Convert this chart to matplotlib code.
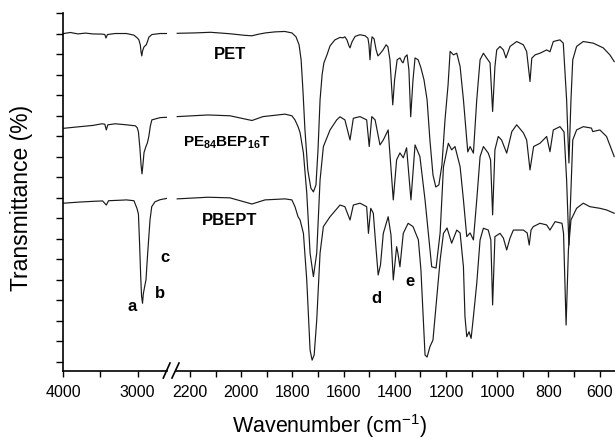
import matplotlib
matplotlib.use("Agg")
import matplotlib.pyplot as plt
import numpy as np

plt.rcParams['font.family'] = ['Liberation Sans', 'DejaVu Sans']
plt.rcParams['mathtext.fontset'] = 'custom'
plt.rcParams['mathtext.rm'] = 'Liberation Sans'
plt.rcParams['mathtext.bf'] = 'Liberation Sans:bold'

# ---------------- data (wavenumber cm-1, transmittance in tick units) -------------
pet_left_wn = [3990, 3900, 3800, 3700, 3600, 3470, 3440, 3425, 3405, 3300, 3150, 3050, 3010,
               2985, 2965, 2955, 2945, 2935, 2915, 2895, 2885, 2870, 2850, 2810, 2700, 2600]
pet_left_t = [16.0, 16.05, 15.98, 16.02, 15.98, 15.97, 15.95, 15.78, 15.95, 16.0, 16.0, 15.92, 15.8,
              15.7, 15.45, 15.1, 14.91, 15.15, 15.35, 15.42, 15.45, 15.6, 15.82, 15.95, 16.0, 16.0]

mid_left_wn = [3990, 3800, 3600, 3480, 3440, 3420, 3400, 3300, 3150, 3030, 3005, 2990,
               2970, 2955, 2942, 2930, 2915, 2890, 2870, 2850, 2830, 2810, 2700, 2600]
mid_left_t = [11.38, 11.45, 11.52, 11.6, 11.58, 11.3, 11.55, 11.6, 11.55, 11.5, 11.4, 11.2,
              10.4, 9.6, 9.16, 9.6, 10.2, 10.49, 10.67, 11.0, 11.5, 11.79, 11.9, 11.92]

pb_left_wn = [3990, 3800, 3600, 3470, 3420, 3390, 3200, 3150, 3050, 3010, 2990, 2975,
              2960, 2948, 2935, 2925, 2905, 2889, 2866, 2835, 2812, 2768, 2700, 2600]
pb_left_t = [7.73, 7.78, 7.82, 7.84, 7.64, 7.85, 7.88, 7.89, 7.85, 7.48, 7.2, 5.8,
             4.2, 3.2, 2.85, 3.3, 3.7, 3.99, 5.3, 6.91, 7.56, 7.8, 7.9, 7.97]

pet_right_wn = [2250, 2180, 2120, 2045, 1985, 1958, 1935, 1905, 1868, 1830, 1802, 1786, 1774,
                1766, 1759, 1751, 1740, 1728, 1718, 1708, 1700, 1692, 1684, 1677, 1665, 1653,
                1634, 1614, 1602, 1595, 1587, 1579, 1575, 1567, 1555, 1536, 1516, 1505, 1501,
                1497, 1493, 1489, 1481, 1473, 1466, 1458, 1446, 1434, 1427, 1419, 1413, 1408,
                1401, 1391, 1380, 1372, 1368, 1360, 1352, 1345, 1338, 1329, 1321, 1309, 1298,
                1286, 1274, 1263, 1251, 1240, 1228, 1216, 1204, 1192, 1184, 1171, 1158, 1145,
                1132, 1119, 1115, 1106, 1093, 1080, 1067, 1054, 1041, 1028, 1018, 1009, 1002,
                989, 976, 966, 950, 924, 898, 885, 872, 865, 852, 833, 807, 794, 781, 755, 742,
                729, 720, 712, 705, 690, 664, 625, 586, 560, 543]
pet_right_t = [16.01, 16.03, 16.06, 15.99, 15.91, 15.89, 15.96, 16.03, 16.08, 16.1, 16.03, 15.84, 15.45,
               14.72, 13.26, 11.3, 9.35, 8.47, 8.28, 8.62, 10.33, 12.77, 13.99, 14.57, 14.96, 15.4,
               15.69, 15.81, 15.79, 15.84, 15.69, 15.4, 15.3, 15.6, 15.86, 15.94, 15.89, 15.77, 15.45,
               14.72, 15.45, 15.84, 15.74, 15.2, 14.91, 15.01, 15.2, 15.45, 15.35, 14.72, 13.5, 12.52,
               13.74, 14.72, 14.81, 14.62, 14.57, 14.86, 14.96, 14.23, 11.94, 13.74, 14.81, 14.72, 14.33,
               13.74, 12.77, 10.82, 9.11, 8.52, 8.62, 9.59, 11.79, 13.5, 15.13, 14.96, 15.04, 14.39,
               12.77, 10.82, 10.23, 10.49, 10.17, 12.77, 14.72, 15.04, 14.8, 14.57, 12.2, 14.39, 15.2,
               15.37, 15.2, 14.81, 15.37, 15.61, 15.45, 15.12, 13.66, 14.8, 14.96, 15.04, 15.2, 15.11, 15.61, 15.69, 15.53,
               12.77, 9.69, 12.77, 14.72, 15.37, 15.61, 15.53, 15.3, 14.96, 14.63]

mid_right_wn = [2250, 2130, 2044, 1958, 1915, 1829, 1802, 1790, 1778, 1770, 1757, 1744, 1731,
                1718, 1705, 1692, 1679, 1653, 1627, 1614, 1595, 1575, 1562, 1536, 1510, 1500,
                1490, 1477, 1458, 1445, 1426, 1406, 1393, 1380, 1367, 1354, 1337, 1321, 1302,
                1282, 1256, 1239, 1223, 1210, 1191, 1178, 1165, 1145, 1132, 1119, 1106, 1093,
                1080, 1067, 1054, 1035, 1026, 1018, 1009, 996, 983, 963, 943, 924, 898, 885,
                872, 858, 833, 807, 794, 781, 755, 739, 729, 720, 712, 705, 690, 664, 632, 627,
                599, 573, 543]
mid_right_t = [11.95, 12.03, 11.99, 11.76, 11.95, 12.07, 11.99, 11.79, 11.46, 11.16, 10.18, 8.23, 5.3,
               4.15, 5.3, 8.86, 10.49, 11.3, 11.79, 11.94, 11.79, 10.81, 11.87, 11.95, 11.79, 10.49,
               11.95, 11.79, 10.57, 10.81, 11.3, 7.89, 9.84, 10.18, 9.94, 10.43, 7.89, 10.57, 10.0,
               7.89, 4.63, 4.57, 6.28, 9.5, 10.65, 10.33, 10.49, 9.51, 7.89, 6.1, 6.28, 5.94,
               7.89, 10.0, 10.49, 10.17, 9.84, 7.16, 10.33, 10.98, 10.81, 10.17, 11.22, 11.55, 11.16, 10.81,
               9.35, 10.49, 10.65, 10.98, 10.24, 11.3, 11.46, 11.2, 8.86, 5.69, 8.38, 10.81, 11.3, 11.46, 11.39, 11.22,
               11.3, 10.98, 10.0]

pb_right_wn = [2250, 2130, 2044, 1958, 1907, 1829, 1802, 1790, 1778, 1770, 1757, 1744, 1731,
               1723, 1715, 1705, 1692, 1679, 1653, 1614, 1595, 1575, 1562, 1536, 1510, 1503,
               1494, 1484, 1473, 1465, 1456, 1445, 1426, 1415, 1406, 1393, 1388, 1380, 1367,
               1348, 1329, 1308, 1298, 1282, 1274, 1263, 1251, 1237, 1223, 1210, 1196, 1178,
               1158, 1145, 1132, 1126, 1119, 1110, 1102, 1093, 1080, 1067, 1054, 1035, 1025,
               1018, 1009, 989, 976, 963, 950, 937, 898, 883, 875, 868, 859, 833, 807, 794,
               774, 747, 741, 731, 722, 712, 690, 664, 638, 599, 573, 543]
pb_right_t = [7.94, 8.02, 7.99, 7.69, 7.89, 7.94, 7.89, 7.56, 7.07, 6.91, 6.26, 3.99, 0.57,
              0.08, 0.33, 2.03, 5.3, 6.59, 7.07, 7.64, 7.56, 6.91, 7.64, 7.73, 7.56, 6.26,
              7.48, 7.24, 5.45, 4.23, 4.72, 6.26, 7.07, 6.18, 3.99, 5.61, 5.3, 4.63, 6.26,
              6.75, 6.59, 5.94, 4.47, 0.33, 0.23, 0.73, 1.06, 3.01, 4.96, 6.26, 6.52, 5.78,
              6.42, 6.28, 4.63, 2.2, 1.22, 1.46, 1.14, 2.2, 3.82, 5.94, 6.51, 6.42, 5.94,
              2.77, 6.1, 6.26, 6.03, 5.45, 6.03, 6.42, 6.42, 6.28, 5.69, 6.42, 6.59, 6.75, 6.67, 6.42,
              6.83, 6.75, 6.26, 1.79, 5.45, 6.91, 7.48, 7.73, 7.56, 7.48, 7.4, 7.24]

left_ticks_major = [4000, 3000]
left_ticks_minor = [3500]
right_ticks_major = [2200, 2000, 1800, 1600, 1400, 1200, 1000, 800, 600]
right_ticks_minor = [2100, 1900, 1700, 1500, 1300, 1100, 900, 700]
y_ticks = list(range(0, 18))

labels = ["PET", r"$\mathbf{PE_{84}BEP_{16}T}$", "PBEPT"]
label_sizes = [12, 11, 12]
label_pos = [(2044, 15.0), (2055, 10.67), (2044, 6.91)]
letters = ["a", "b", "c", "d", "e"]
letter_pos_left = [(3076, 2.67), (2701, 3.35), (2634, 5.06)]
letter_pos_right = [(1470, 3.06), (1341, 3.89)]

# ---------------- figure ----------------
W, H = 615, 441
fig = plt.figure(figsize=(W / 100, H / 100), dpi=100)
x0, x_brk_l, x_brk_r, x1 = 63, 167, 176, 615
yb, yt = 371, 13
axL = fig.add_axes([x0 / W, (H - yb) / H, (x_brk_l - x0) / W, (yb - yt) / H])
axR = fig.add_axes([x_brk_r / W, (H - yb) / H, (x1 - x_brk_r) / W, (yb - yt) / H])

lc = '#1a1a1a'
lw = 0.85
for wn, t in [(pet_left_wn, pet_left_t), (mid_left_wn, mid_left_t), (pb_left_wn, pb_left_t)]:
    axL.plot(wn, t, color=lc, lw=lw)
for wn, t in [(pet_right_wn, pet_right_t), (mid_right_wn, mid_right_t), (pb_right_wn, pb_right_t)]:
    axR.plot(wn, t, color=lc, lw=lw)

ymin, ymax = -0.45, 17.0
for ax in (axL, axR):
    ax.set_ylim(ymin, ymax)
    ax.spines['top'].set_visible(False)
    ax.spines['right'].set_visible(False)
    ax.spines['bottom'].set_linewidth(1.2)
    ax.spines['left'].set_linewidth(1.2)
    ax.tick_params(axis='x', which='both', direction='out', length=4, width=1.0,
                   labelsize=11.5, pad=6)
    ax.patch.set_alpha(0)

axL.set_xlim(4000, 4000 - (x_brk_l - x0) * 13.39)
axR.set_xlim(2200 + (190 - x_brk_r) * 3.906, 540)
axL.set_xticks(left_ticks_major)
axL.set_xticks(left_ticks_minor, minor=True)
axR.set_xticks(right_ticks_major)
axR.set_xticks(right_ticks_minor, minor=True)
axL.set_yticks(y_ticks)
axL.set_yticklabels([])
axL.tick_params(axis='y', direction='out', length=5, width=1.0)
axR.spines['left'].set_visible(False)
axR.set_yticks([])

# break marks
for xs in [(163.3, 170.0), (172.0, 179.0)]:
    fig.add_artist(plt.Line2D([xs[0] / W, xs[1] / W], [(H - 378) / H, (H - 363) / H],
                              color='black', lw=1.2, transform=fig.transFigure))

for lab, sz, (wx, wy) in zip(labels, label_sizes, label_pos):
    axR.text(wx, wy, lab, ha='center', va='center', fontsize=sz, fontweight='bold')
for lab, (wx, wy) in zip(letters[:3], letter_pos_left):
    axL.text(wx, wy, lab, ha='center', va='center', fontsize=12, fontweight='bold', clip_on=False)
for lab, (wx, wy) in zip(letters[3:], letter_pos_right):
    axR.text(wx, wy, lab, ha='center', va='center', fontsize=12, fontweight='bold')

fig.text(330 / W, (H - 426) / H, r"Wavenumber (cm$^{-1}$)", ha='center', va='center', fontsize=15.5)
fig.text(22 / W, (H - 198) / H, "Transmittance (%)", ha='center', va='center', fontsize=16.5,
         rotation=90)

fig.savefig("out.png", dpi=100)
